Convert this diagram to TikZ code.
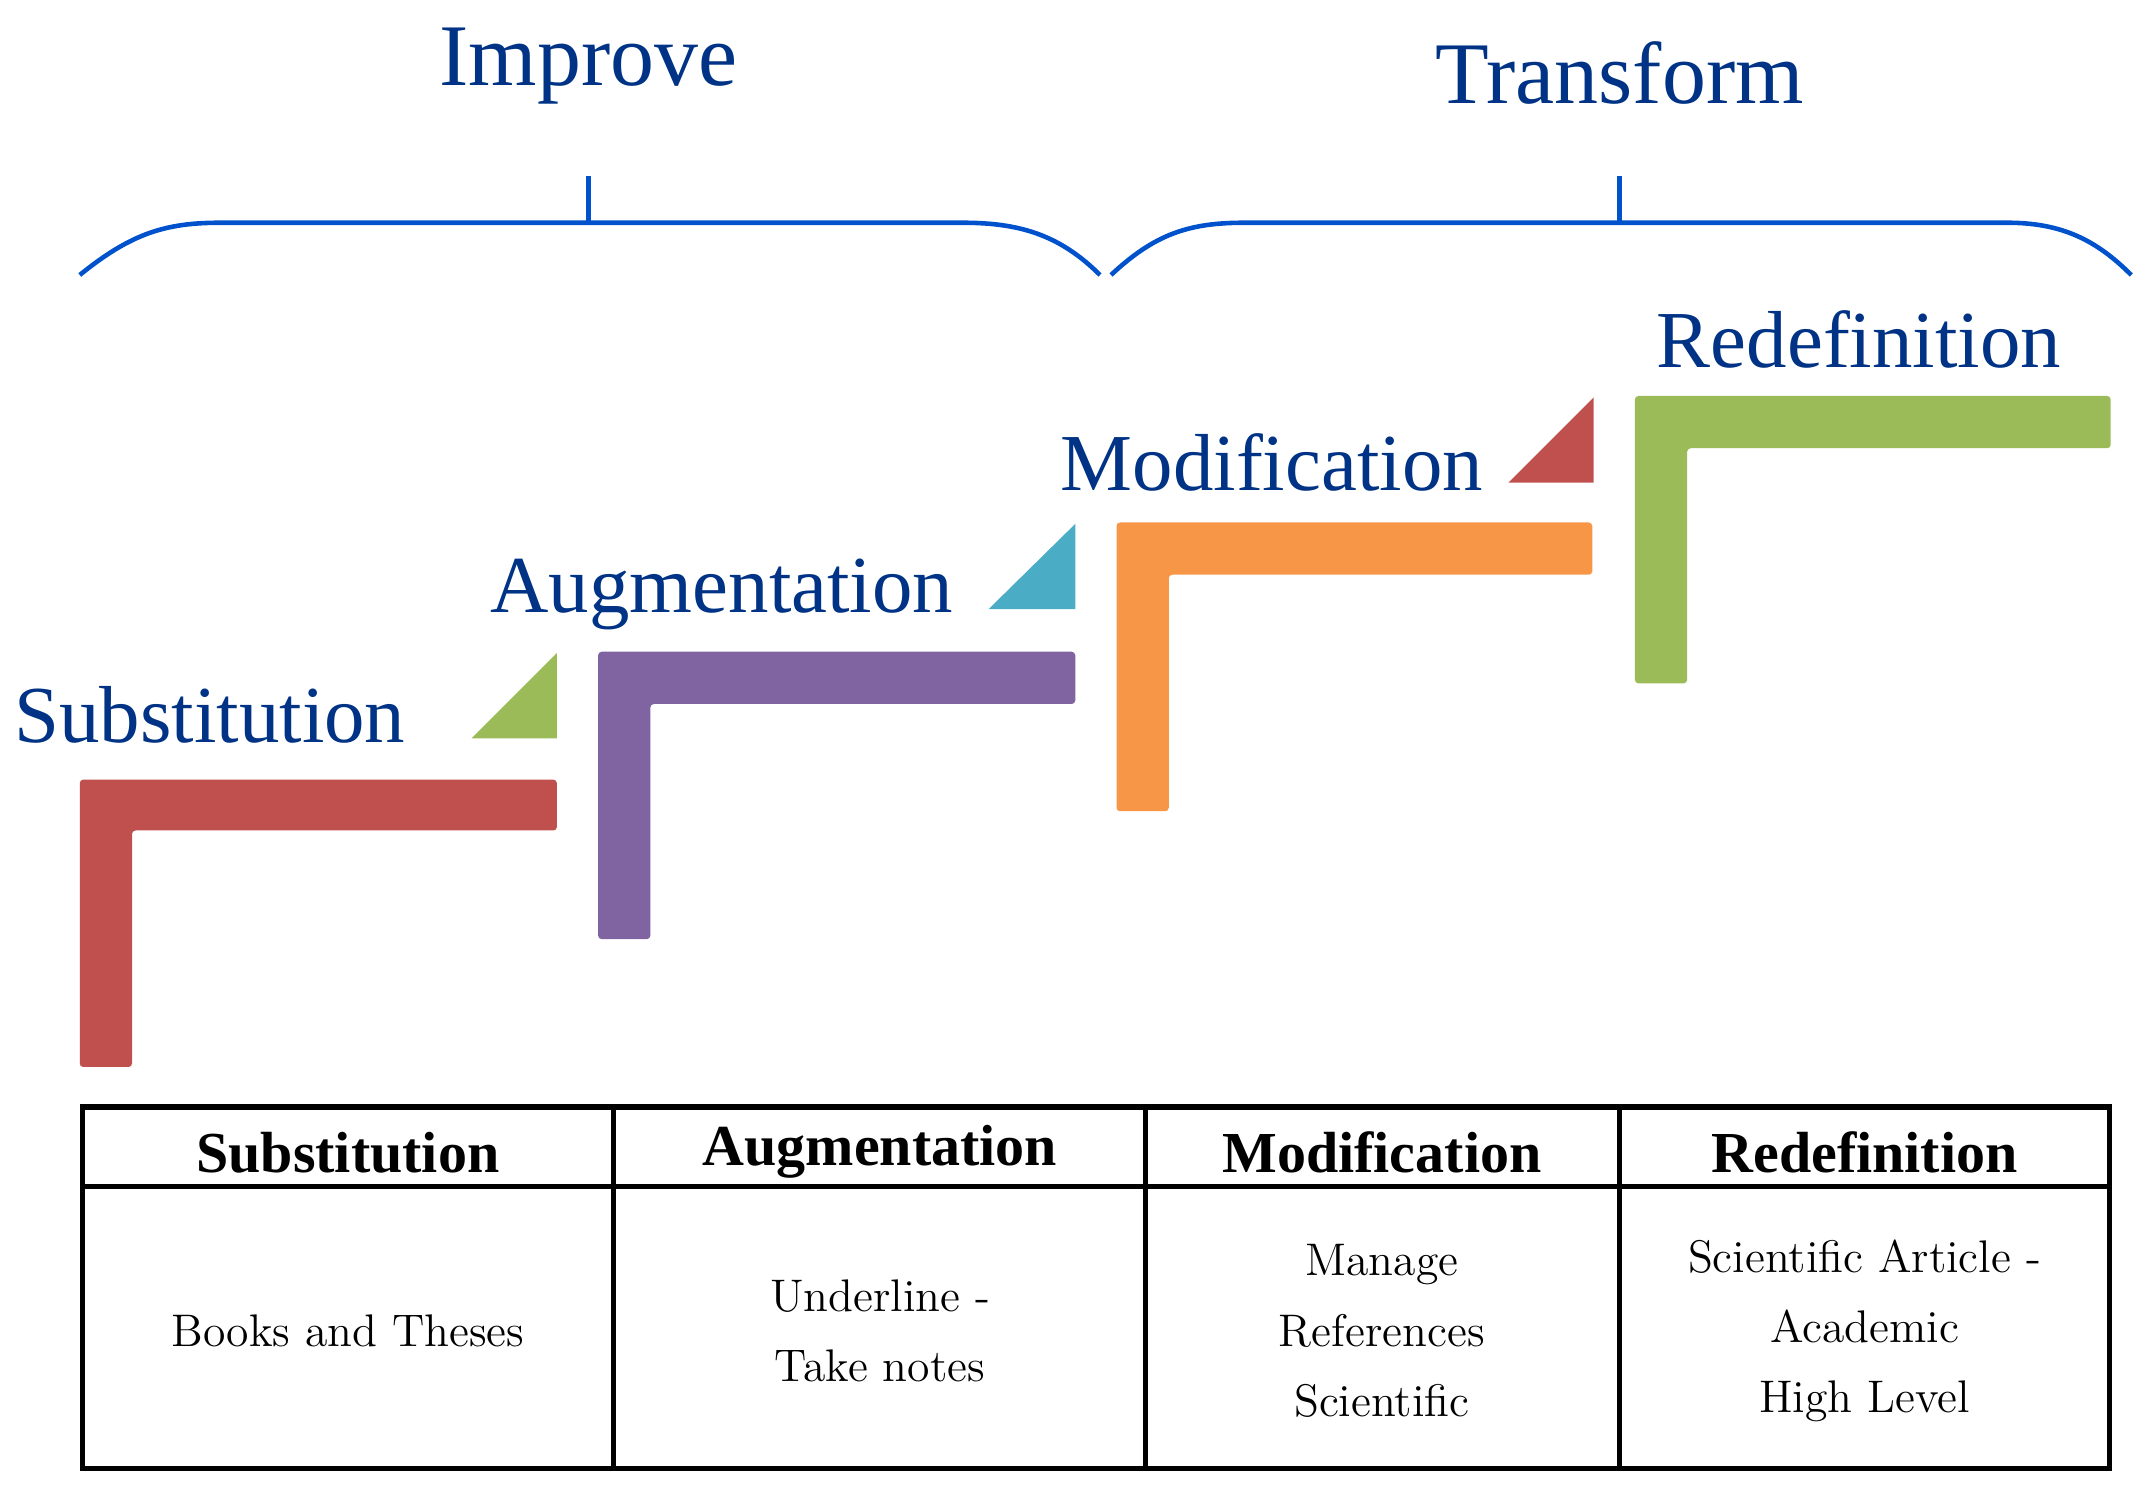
\documentclass[tikz,border=0pt]{standalone}
\usepackage{fontspec}
\newfontfamily\tms{Liberation Serif}
\begin{document}
\begin{tikzpicture}[x=0.01375cm,y=-0.01375cm,
  lbl/.style={text=blue!40!black!80!cyan, font=\tms\fontsize{23}{26}\selectfont, inner sep=0},
  big/.style={text=blue!40!black!80!cyan, font=\tms\fontsize{25}{28}\selectfont, inner sep=0},
  brace/.style={draw=blue!60!cyan!80!black, line width=1.3pt},
  hdr/.style={font=\tms\bfseries\fontsize{16.5}{19}\selectfont},
  body/.style={font=\fontsize{13}{20}\selectfont, align=center}]
\definecolor{cR}{HTML}{C0504D}\definecolor{cG}{HTML}{9BBB59}
\definecolor{cP}{HTML}{8064A2}\definecolor{cB}{HTML}{4BACC6}
\definecolor{cO}{HTML}{F79646}
\useasboundingbox (0,0) rectangle (1560,1080);
\node[big] (imp) at (428,48) {Improve};
\node[big] (tra) at (1178,53) {Transform};
\draw[brace] (58,200) .. controls (95,170) and (120,162) .. (160,162) -- (700,162) .. controls (740,162) and (770,170) .. (800,200);
\draw[brace] (428,128) -- (428,162);
\draw[brace] (808,200) .. controls (840,170) and (865,162) .. (905,162) -- (1460,162) .. controls (1500,162) and (1525,175) .. (1550,200);
\draw[brace] (1178,128) -- (1178,162);
% steps
\fill[cR,rounded corners=1pt] (58,567) -- (405,567) -- (405,604) -- (96,604) -- (96,776) -- (58,776) -- cycle;
\fill[cG] (343,537) -- (405,537) -- (405,475) -- cycle;
\node[lbl,anchor=west] (s) at (10,520) {Substitution};
\fill[cP,rounded corners=1pt] (435,474) -- (782,474) -- (782,512) -- (473,512) -- (473,683) -- (435,683) -- cycle;
\fill[cB] (719,443) -- (782,443) -- (782,381) -- cycle;
\node[lbl] (a) at (525,432) {Augmentation};
\fill[cO,rounded corners=1pt] (812,380) -- (1158,380) -- (1158,418) -- (850,418) -- (850,590) -- (812,590) -- cycle;
\fill[cR] (1097,351) -- (1159,351) -- (1159,289) -- cycle;
\node[lbl] (m) at (925,336) {Modification};
\fill[cG,rounded corners=1pt] (1189,288) -- (1535,288) -- (1535,326) -- (1227,326) -- (1227,497) -- (1189,497) -- cycle;
\node[lbl] (r) at (1352,247) {Redefinition};
% table
\draw[line width=1.5pt] (60,805) rectangle (1534,1068);
\draw[line width=1.5pt] (60,863) -- (1534,863);
\foreach \x in {446,833,1178} \draw[line width=1.5pt] (\x,805) -- (\x,1068);
\node[hdr] (h1) at (253,838) {Substitution};
\node[hdr] (h2) at (640,838) {Augmentation};
\node[hdr] (h3) at (1005,838) {Modification};
\node[hdr] (h4) at (1356,838) {Redefinition};
\node[body] (b1) at (253,968) {Books and Theses};
\node[body] (b2) at (640,968) {Underline -\\Take notes};
\node[body] (b3) at (1005,968) {Manage\\References\\Scientific};
\node[body] (b4) at (1356,968) {Scientific Article -\\Academic\\High Level};
\end{tikzpicture}
\end{document}
